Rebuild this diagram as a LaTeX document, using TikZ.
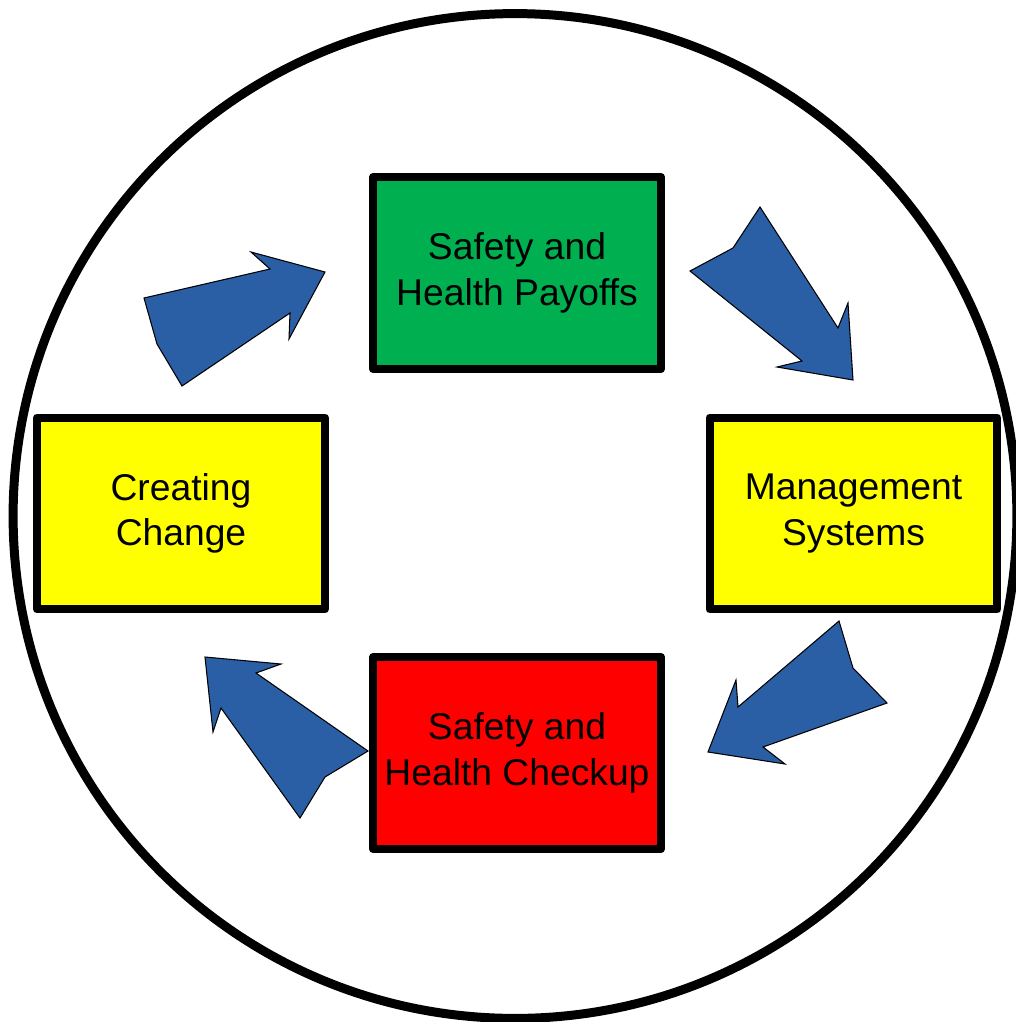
\documentclass[tikz,border=0pt]{standalone}
\usepackage{fontspec}
\setmainfont{Liberation Sans}
\definecolor{payoffgreen}{HTML}{00B050}
\definecolor{stepyellow}{HTML}{FFFF00}
\definecolor{checkred}{HTML}{FF0000}
\definecolor{arrowblue}{HTML}{2A5FA5}
\begin{document}
\begin{tikzpicture}[x=0.02cm,y=-0.02cm,
  main node/.style={rectangle,draw,line width=0.16cm,line join=round,
    minimum width=5.76cm,minimum height=3.84cm,align=center,
    font=\fontsize{21.2}{26}\selectfont},
  block arrow/.style={fill=arrowblue,draw=black,line width=0.6pt,line join=miter}]

  \useasboundingbox (0,0) rectangle (1016,1022);
  \clip (0,0) rectangle (1016,1022);
  \fill[white] (0,0) rectangle (1016,1022);

  \draw[line width=0.18cm] (515,516) ellipse [x radius=10.04cm,y radius=10.05cm];

  \node[main node,fill=payoffgreen] (payoffs) at (517,273) {Safety and\\Health Payoffs};
  \node[main node,fill=stepyellow] (systems) at (853.5,513.5) {Management\\Systems};
  \node[main node,fill=checkred] (checkup) at (517,753) {Safety and\\Health Checkup};
  \node[main node,fill=stepyellow] (change) at (181,513.5) {Creating\\Change};

  % block arrows between the boxes
  \draw[block arrow] (144,298) -- (270,269) -- (251,252) -- (325,272)
    -- (289,339) -- (290,313) -- (182,386) -- (157,344) -- cycle;
  \draw[block arrow] (760,207) -- (838,328) -- (848,303) -- (853,380)
    -- (777,367) -- (802,361) -- (690,271) -- (733,248) -- cycle;
  \draw[block arrow] (839,621) -- (853,668) -- (887,703) -- (763,747)
    -- (785,764) -- (708,752) -- (736,680) -- (738,707) -- cycle;
  \draw[block arrow] (205,657) -- (281,664) -- (256,673) -- (368,751)
    -- (325,777) -- (300,818) -- (221,708) -- (213,732) -- cycle;
\end{tikzpicture}
\end{document}
